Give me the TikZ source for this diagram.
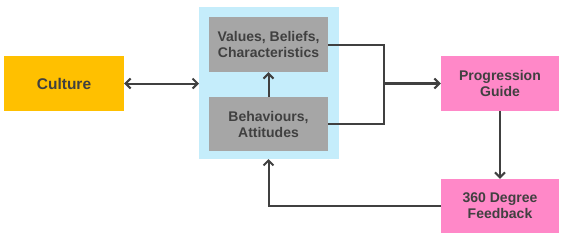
\documentclass[tikz,border=0pt]{standalone}
\usepackage{fontspec}
\setmainfont{Liberation Sans}
\usetikzlibrary{arrows.meta}
\definecolor{culturec}{HTML}{FFC000}
\definecolor{greyc}{HTML}{A6A6A6}
\definecolor{pinkc}{HTML}{FF88C8}
\definecolor{bluec}{HTML}{C5EDFB}
\definecolor{txtc}{HTML}{404040}
\tikzset{
  box/.style={draw=none, inner sep=0pt, align=center, text=txtc,
    font=\fontsize{14}{16}\selectfont\bfseries},
  tip/.tip={Straight Barb[length=5pt,width=10pt,line width=2pt]},
  conn/.style={draw=txtc, line width=2pt, -tip},
  dconn/.style={draw=txtc, line width=2pt, tip-tip},
  line/.style={draw=txtc, line width=2pt}
}
\begin{document}
\begin{tikzpicture}[x=1pt,y=-1pt]
\useasboundingbox (0,0) rectangle (568,239);
\fill[bluec] (199,7) rectangle (339,159);
\node[box, fill=culturec, minimum width=120pt, minimum height=55pt, font=\fontsize{15.5}{18}\selectfont\bfseries] (culture) at (64,83.5) {Culture};
\node[box, fill=greyc, minimum width=119pt, minimum height=55pt] (values) at (268.5,44.5) {Values, Beliefs,\\Characteristics};
\node[box, fill=greyc, minimum width=119pt, minimum height=54pt] (behav) at (268.5,124) {Behaviours,\\Attitudes};
\node[box, fill=pinkc, minimum width=118pt, minimum height=55pt] (prog) at (500,83.5) {Progression\\Guide};
\node[box, fill=pinkc, minimum width=118pt, minimum height=54pt] (fb) at (500,206) {360 Degree\\Feedback};
\coordinate (cont) at (268.5,159);
\coordinate (contL) at (199,83.5);
\coordinate (j) at (383.5,83.5);
\draw[dconn] (culture.east) -- (contL);
\draw[conn] (behav.north) -- (values.south);
\draw[line] (values.east) -| (j) |- (behav.east);
\draw[conn, line width=3pt] (j) -- (prog.west);
\draw[conn] (prog.south) -- (fb.north);
\draw[conn] (fb.west) -| (cont);
\end{tikzpicture}
\end{document}
